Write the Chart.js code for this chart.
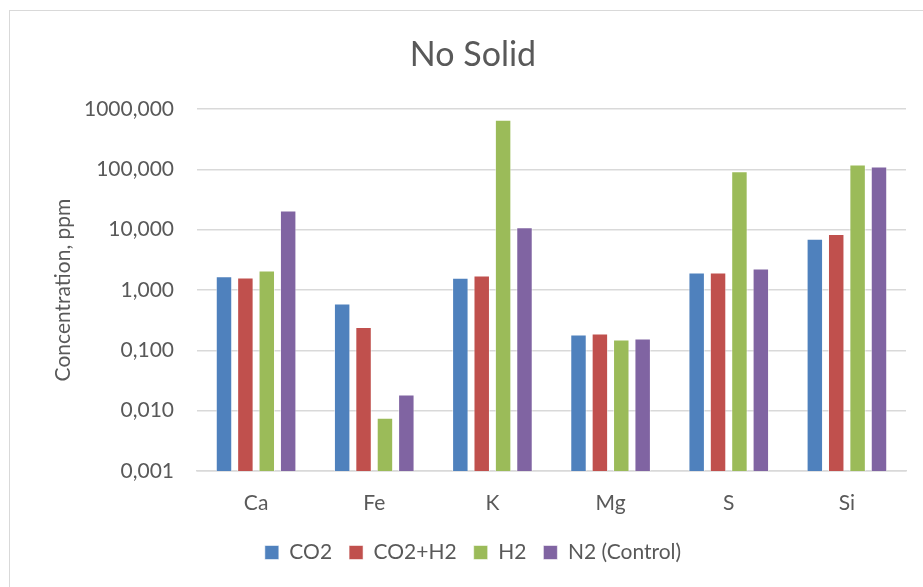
<!DOCTYPE html>
<html>
<head>
<meta charset="utf-8">
<script src="https://cdn.jsdelivr.net/npm/chart.js@4"></script>
<style>
  html, body { margin: 0; padding: 0; background: #fff; overflow: hidden; }
  #frame { position: absolute; left: 9px; top: 10px; width: 930px; height: 600px; border: 1px solid #d9d9d9; }
  #chart { position: absolute; left: 0; top: 0; }
</style>
</head>
<body>
<div id="frame"></div>
<canvas id="chart" width="923" height="587"></canvas>
<script>
// elements on the x axis
const elements = ['Ca', 'Fe', 'K', 'Mg', 'S', 'Si'];

// concentrations in ppm
const co2     = [1.69, 0.597, 1.59, 0.183, 1.95, 7.04];
const co2h2   = [1.61, 0.244, 1.74, 0.190, 1.95, 8.51];
const h2      = [2.10, 0.0076, 662, 0.151, 93.3, 120.5];
const n2      = [20.8, 0.0185, 11.0, 0.157, 2.27, 111.7];

const yTicks = [0.001, 0.01, 0.1, 1, 10, 100, 1000];

const textColor = '#595959';
const font = 'Lato, "Open Sans", sans-serif';

function series(label, data, color) {
    return {
        label: label,
        data: data,
        backgroundColor: color,
        borderColor: 'rgba(255,255,255,0.55)',
        borderWidth: 1,
        categoryPercentage: 0.724,
        barPercentage: 0.77
    };
}

new Chart(document.getElementById('chart'), {
    type: 'bar',
    data: {
        labels: elements,
        datasets: [
            series('CO2', co2, '#4F81BD'),
            series('CO2+H2', co2h2, '#C0504D'),
            series('H2', h2, '#9BBB59'),
            series('N2 (Control)', n2, '#8064A2')
        ]
    },
    options: {
        responsive: false,
        animation: false,
        layout: { padding: { top: 0, left: 40, right: 17, bottom: 14 } },
        plugins: {
            title: {
                display: true,
                text: 'No Solid',
                color: textColor,
                font: { family: font, size: 34, weight: 'normal' },
                padding: { top: 34.6, bottom: 33.6 }
            },
            legend: {
                position: 'bottom',
                labels: {
                    color: textColor,
                    font: { family: font, size: 21 },
                    boxWidth: 14,
                    boxHeight: 14,
                    padding: 17
                }
            },
            tooltip: { enabled: false }
        },
        scales: {
            x: {
                afterFit: (scale) => {
                    scale.height = 54;
                },
                grid: { display: false, drawTicks: false },
                border: { display: true, color: '#d9d9d9', width: 1.5 },
                ticks: {
                    color: textColor,
                    font: { family: font, size: 21 },
                    padding: 19.4
                }
            },
            y: {
                type: 'logarithmic',
                min: 0.001,
                max: 1000,
                afterBuildTicks: (scale) => {
                    scale.ticks = yTicks.map(v => ({ value: v }));
                },
                afterFit: (scale) => {
                    scale.width = 197 - 40;
                },
                grid: { color: '#d9d9d9', lineWidth: 1.5, drawTicks: false },
                border: { display: false },
                ticks: {
                    color: textColor,
                    font: { family: font, size: 21 },
                    padding: 23,
                    callback: (v) => Number(v).toFixed(3).replace('.', ',')
                },
                title: {
                    display: true,
                    text: 'Concentration, ppm',
                    color: textColor,
                    font: { family: font, size: 21 },
                    padding: { top: 10.4, bottom: 0 }
                }
            }
        }
    }
});
</script>
</body>
</html>
